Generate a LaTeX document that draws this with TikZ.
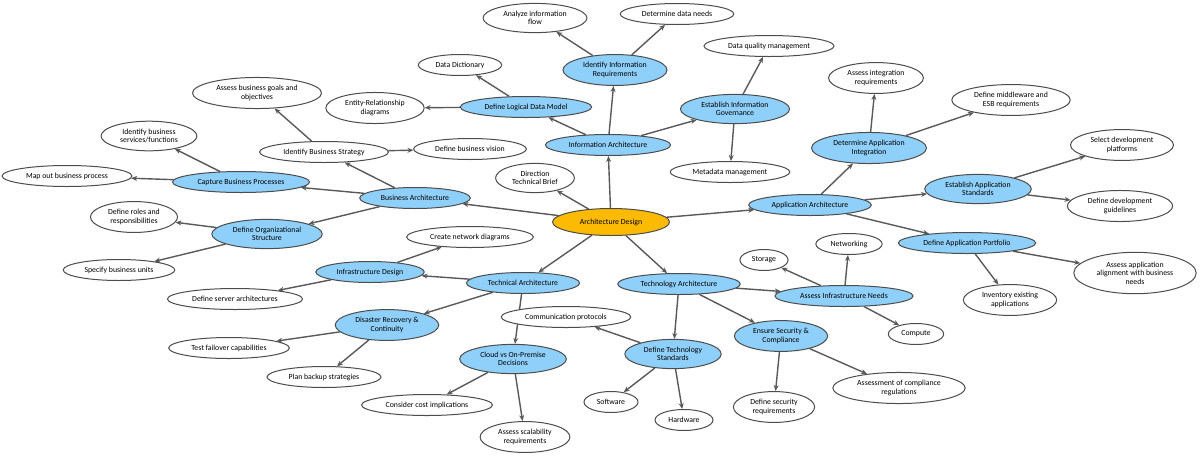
\documentclass[tikz,border=0pt]{standalone}
\usepackage{fontspec}
\setmainfont{Carlito}
\usepackage{tikz}
\usetikzlibrary{shapes.geometric, arrows.meta}

\definecolor{topic blue}{RGB}{143,208,250}
\definecolor{root orange}{RGB}{252,186,3}
\pgfdeclarelayer{background}
\pgfsetlayers{background,main}

\begin{document}
\begin{tikzpicture}[x=1pt, y=-1pt, font=\fontsize{7.8}{8.6}\selectfont]

					\tikzstyle{idea}=[ellipse, draw=black!70, line width=1pt, fill=white, align=center, inner xsep=5pt, inner ysep=3.3pt, minimum height=21pt];
					\tikzstyle{topic}=[idea, fill=topic blue];
					\tikzstyle{root}=[idea, fill=root orange, minimum width=117pt, minimum height=27pt];
					\tikzstyle{link}=[draw=black!65, line width=1.4pt, -{Stealth[length=6pt, width=5pt]}];

					\useasboundingbox (0,0) rectangle (1200,456);

					\node (arc) [root] at (611,222) {Architecture Design};
					\node (brief) [idea] at (535,178) {Direction\\Technical Brief};

					% business
					\node (bus) [topic] at (415,198) {Business Architecture};
					\node (bus str) [idea] at (324,152) {Identify Business Strategy};
					\node (bus goal) [idea] at (257,93) {Assess business goals and\\objectives};
					\node (bus vis) [idea] at (470,149) {Define business vision};
					\node (bus cap) [topic] at (241,182) {Capture Business Processes};
					\node (bus srv) [idea] at (149,136) {Identify business\\services/functions};
					\node (bus map) [idea] at (67,176) {Map out business process};
					\node (bus org) [topic] at (267,234) {Define Organizational\\Structure};
					\node (bus rol) [idea] at (134,217) {Define roles and\\responsibilities};
					\node (bus unt) [idea] at (119,270) {Specify business units};

					% information
					\node (inf) [topic] at (608,145) {Information Architecture};
					\node (inf req) [topic] at (615,70) {Identify Information\\Requirements};
					\node (inf flw) [idea] at (535,18) {Analyze information\\flow};
					\node (inf nds) [idea] at (677,14) {Determine data needs};
					\node (inf mod) [topic] at (526,107) {Define Logical Data Model};
					\node (inf dic) [idea] at (460,65) {Data Dictionary};
					\node (inf erd) [idea] at (375,108) {Entity-Relationship\\diagrams};
					\node (inf gov) [topic] at (735,109) {Establish Information\\Governance};
					\node (inf dqm) [idea] at (769,46) {Data quality management};
					\node (inf meta) [idea] at (730,172) {Metadata management};

					% application
					\node (app) [topic] at (810,205) {Application Architecture};
					\node (app int) [topic] at (869,148) {Determine Application\\Integration};
					\node (app aint) [idea] at (876,78) {Assess integration\\requirements};
					\node (app esb) [idea] at (1011,100) {Define middleware and\\ESB requirements};
					\node (app std) [topic] at (978,189) {Establish Application\\Standards};
					\node (app plt) [idea] at (1122,145) {Select development\\platforms};
					\node (app gdl) [idea] at (1120,206) {Define development\\guidelines};
					\node (app pfl) [topic] at (967,243) {Define Application Portfolio};
					\node (app inv) [idea] at (1010,300) {Inventory existing\\applications};
					\node (app aln) [idea] at (1135,273) {Assess application\\alignment with business\\needs};

					% technical
					\node (tec) [topic] at (523,283) {Technical Architecture};
					\node (tec inf) [topic] at (370,272) {Infrastructure Design};
					\node (tec net) [idea] at (470,237) {Create network diagrams};
					\node (tec srv) [idea] at (235,299) {Define server architectures};
					\node (tec dr) [topic] at (387,325) {Disaster Recovery \&\\Continuity};
					\node (tec fail) [idea] at (229,348) {Test failover capabilities};
					\node (tec bkp) [idea] at (324,377) {Plan backup strategies};
					\node (tec cld) [topic] at (513,359) {Cloud vs On-Premise\\Decisions};
					\node (tec cost) [idea] at (427,405) {Consider cost implications};
					\node (tec scl) [idea] at (525,437) {Assess scalability\\requirements};

					% technology
					\node (tny) [topic] at (679,284) {Technology Architecture};
					\node (tny std) [topic] at (673,354) {Define Technology\\Standards};
					\node (tny com) [idea] at (566,317) {Communication protocols};
					\node (tny sw) [idea] at (611,402) {Software};
					\node (tny hw) [idea] at (684,420) {Hardware};
					\node (tny sec) [topic] at (781,336) {Ensure Security \&\\Compliance};
					\node (tny sreq) [idea] at (774,407) {Define security\\requirements};
					\node (tny cmp) [idea] at (899,388) {Assessment of compliance\\regulations};
					\node (tny need) [topic] at (844,296) {Assess Infrastructure Needs};
					\node (tny sto) [idea] at (764,260) {Storage};
					\node (tny net) [idea] at (849,244) {Networking};
					\node (tny cpu) [idea] at (916,334) {Compute};

					\begin{pgfonlayer}{background}
					\foreach \a/\b in {arc/bus, arc/brief, arc/inf, arc/app, arc/tec, arc/tny,
						bus/bus str, bus/bus cap, bus/bus org,
						bus str/bus goal, bus str/bus vis,
						bus cap/bus srv, bus cap/bus map,
						bus org/bus rol, bus org/bus unt,
						inf/inf req, inf/inf mod, inf/inf gov,
						inf req/inf flw, inf req/inf nds,
						inf mod/inf dic, inf mod/inf erd,
						inf gov/inf dqm, inf gov/inf meta,
						app/app int, app/app std, app/app pfl,
						app int/app aint, app int/app esb,
						app std/app plt, app std/app gdl,
						app pfl/app inv, app pfl/app aln,
						tec/tec inf, tec/tec dr, tec/tec cld,
						tec inf/tec net, tec inf/tec srv,
						tec dr/tec fail, tec dr/tec bkp,
						tec cld/tec cost, tec cld/tec scl,
						tny/tny std, tny/tny sec, tny/tny need,
						tny std/tny com, tny std/tny sw, tny std/tny hw,
						tny sec/tny sreq, tny sec/tny cmp,
						tny need/tny sto, tny need/tny net, tny need/tny cpu}
						\draw [link] (\a) -- (\b);
					\end{pgfonlayer}

				\end{tikzpicture}
\end{document}
